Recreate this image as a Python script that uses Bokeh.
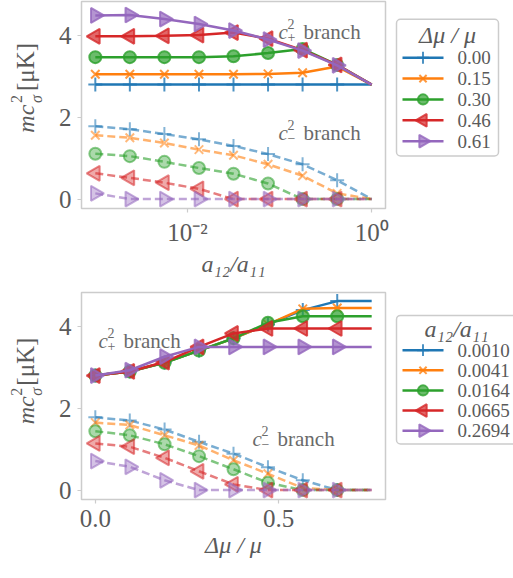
import math
from bokeh.plotting import figure
from bokeh.models import Range1d, FixedTicker, NumeralTickFormatter, Quad, Label
from bokeh.core.properties import value
from bokeh.layouts import column, row
from bokeh.embed import file_html
from bokeh.resources import INLINE

# ---------------- data ----------------
# top panel: x = a12/a11 (log), series = delta mu / mu
a12_top = [0.001, 0.00237, 0.00562, 0.01334, 0.03162, 0.0750, 0.1778, 0.4217, 1.0]
dmu_labels = ["0.00", "0.15", "0.30", "0.46", "0.61"]
cplus_top_000 = [2.80, 2.80, 2.80, 2.80, 2.80, 2.80, 2.80, 2.80, 2.80]
cplus_top_015 = [3.05, 3.05, 3.05, 3.05, 3.05, 3.06, 3.09, 3.24, 2.80]
cplus_top_030 = [3.47, 3.47, 3.47, 3.47, 3.49, 3.57, 3.67, 3.28, 2.80]
cplus_top_046 = [3.98, 3.98, 3.99, 4.01, 4.07, 3.92, 3.64, 3.28, 2.80]
cplus_top_061 = [4.49, 4.50, 4.40, 4.28, 4.12, 3.90, 3.63, 3.27, 2.80]
cminus_top_000 = [1.78, 1.71, 1.59, 1.46, 1.30, 1.10, 0.85, 0.46, 0.00]
cminus_top_015 = [1.56, 1.50, 1.37, 1.21, 1.07, 0.85, 0.57, 0.14, 0.00]
cminus_top_030 = [1.11, 1.05, 0.91, 0.76, 0.62, 0.38, 0.00, 0.00, 0.00]
cminus_top_046 = [0.63, 0.52, 0.40, 0.25, 0.00, 0.00, 0.00, 0.00, 0.00]
cminus_top_061 = [0.14, 0.00, 0.00, 0.00, 0.00, 0.00, 0.00, 0.00, 0.00]

# bottom panel: x = delta mu / mu, series = a12/a11
dmu_bot = [0.0, 0.094, 0.189, 0.283, 0.377, 0.471, 0.566, 0.660, 0.754]
a12_labels = ["0.0010", "0.0041", "0.0164", "0.0665", "0.2694"]
cplus_bot_0010 = [2.80, 2.90, 3.12, 3.41, 3.71, 4.05, 4.40, 4.62, 4.62]
cplus_bot_0041 = [2.80, 2.90, 3.12, 3.41, 3.71, 4.05, 4.43, 4.45, 4.45]
cplus_bot_0164 = [2.80, 2.90, 3.11, 3.41, 3.71, 4.09, 4.25, 4.25, 4.25]
cplus_bot_0665 = [2.80, 2.90, 3.13, 3.50, 3.83, 3.95, 3.95, 3.95, 3.95]
cplus_bot_2694 = [2.80, 2.93, 3.26, 3.50, 3.50, 3.50, 3.50, 3.50, 3.50]
cminus_bot_0010 = [1.78, 1.70, 1.48, 1.18, 0.89, 0.56, 0.24, 0.00, 0.00]
cminus_bot_0041 = [1.65, 1.59, 1.34, 1.09, 0.73, 0.40, 0.05, 0.00, 0.00]
cminus_bot_0164 = [1.44, 1.34, 1.12, 0.83, 0.51, 0.18, 0.00, 0.00, 0.00]
cminus_bot_0665 = [1.14, 1.06, 0.79, 0.46, 0.14, 0.00, 0.00, 0.00, 0.00]
cminus_bot_2694 = [0.71, 0.57, 0.24, 0.00, 0.00, 0.00, 0.00, 0.00, 0.00]

y_ticks = [0, 2, 4]
top_x_ticks = [0.01, 1.0]
top_x_tick_labels = ["10⁻²", "10⁰"]
bot_x_ticks = [0.0, 0.5]

top_plus = [cplus_top_000, cplus_top_015, cplus_top_030, cplus_top_046, cplus_top_061]
top_minus = [cminus_top_000, cminus_top_015, cminus_top_030, cminus_top_046, cminus_top_061]
bot_plus = [cplus_bot_0010, cplus_bot_0041, cplus_bot_0164, cplus_bot_0665, cplus_bot_2694]
bot_minus = [cminus_bot_0010, cminus_bot_0041, cminus_bot_0164, cminus_bot_0665, cminus_bot_2694]

# ---------------- style ----------------
FONT = "Liberation Serif"
TXT = "#5a5a5a"
ANN = "#6a6a6a"
GRID = "#cccccc"
colors = ["#1f77b4", "#ff7f0e", "#2ca02c", "#d62728", "#9467bd"]
markers = ["cross", "x", "circle", "triangle", "triangle"]
angles = [0.0, 0.0, 0.0, math.pi / 2, -math.pi / 2]
msizes = [14, 12, 12, 15, 15]
NMARK = 8
HAS_RADIUS = "border_radius" in Quad.properties()


def style(p):
    p.outline_line_color = GRID
    p.outline_line_width = 1.5
    p.xgrid.visible = False
    p.ygrid.visible = False
    p.border_fill_color = "white"
    for ax in p.axis:
        ax.axis_line_color = None
        ax.major_tick_line_color = GRID
        ax.major_tick_line_width = 1.2
        ax.major_tick_out = 4
        ax.major_tick_in = 0
        ax.minor_tick_line_color = None
        ax.major_label_text_font = FONT
        ax.major_label_text_font_size = "25px"
        ax.major_label_text_color = TXT
        ax.major_label_standoff = 6
        ax.axis_label_text_font = FONT
        ax.axis_label_text_font_size = "24px"
        ax.axis_label_text_color = TXT
        ax.axis_label_text_font_style = "italic"
        ax.axis_label_standoff = 2
    p.yaxis.ticker = FixedTicker(ticks=y_ticks)
    p.yaxis.axis_label = None


def draw(p, xs, plus, minus):
    for i in range(5):
        c = colors[i]
        p.line(xs, minus[i], line_color=c, line_width=2.5, line_dash="8 4", line_alpha=0.6)
        p.scatter(xs[:NMARK], minus[i][:NMARK], marker=markers[i], size=msizes[i], angle=angles[i],
                  fill_color=c, fill_alpha=0.4, line_color=c, line_alpha=0.55, line_width=2)
    for i in range(5):
        c = colors[i]
        p.line(xs, plus[i], line_color=c, line_width=2.5)
        p.scatter(xs[:NMARK], plus[i][:NMARK], marker=markers[i], size=msizes[i], angle=angles[i],
                  fill_color=c, fill_alpha=0.7, line_color=c, line_alpha=0.8, line_width=2)


def txt(p, x, y, text, size, style="normal", angle=0.0, color=TXT, align="left", baseline="alphabetic"):
    p.text(x=[x], y=[y], text=[text], angle=angle, text_font=value(FONT), text_font_style=style,
           text_font_size=size, text_color=color, text_align=align, text_baseline=baseline)


def branch(p, x, y, sign):
    # x, y in screen pixels relative to the frame (y up)
    for dx, dy, t, s, st in [(0, 0, "c", "21px", "italic"), (9, 8, "2", "14px", "normal"),
                             (9, -5, sign, "14px", "normal"), (25, 0, "branch", "21px", "normal")]:
        p.add_layout(Label(x=x + dx, y=y + dy, x_units="screen", y_units="screen", text=t,
                           text_font=FONT, text_font_style=st, text_font_size=s,
                           text_color=ANN, text_align="left", text_baseline="alphabetic"))


def aux(w, h):
    f = figure(width=w, height=h, x_range=Range1d(0, w), y_range=Range1d(h, 0),
               min_border=0, x_axis_location=None, y_axis_location=None, title=None,
               output_backend="svg", toolbar_location=None)
    f.outline_line_color = None
    f.xgrid.visible = False
    f.ygrid.visible = False
    f.border_fill_color = "white"
    return f


def ylabel_fig(h, cy):
    # rotated y-axis label  m c^2_sigma [muK]; pieces anchored at their centres
    f = aux(45, h)
    a = math.pi / 2
    cy = cy + 16
    txt(f, 25, cy + 38, "mc", "24px", "italic", a, align="center", baseline="middle")
    txt(f, 15.5, cy + 11.5, "2", "16px", "normal", a, align="center", baseline="middle")
    txt(f, 36, cy + 11.5, "σ", "16px", "italic", a, align="center", baseline="middle")
    txt(f, 25, cy - 32, "[μK]", "25px", "normal", a, align="center", baseline="middle")
    return f


def legend_fig(h, box, title, title_xy, labels, y0, pitch):
    f = aux(124, h)
    kw = dict(fill_color="white", line_color=GRID, line_width=1.5)
    if HAS_RADIUS:
        kw["border_radius"] = 4
    f.quad(left=[box[0]], right=[box[1]], top=[box[2]], bottom=[box[3]], **kw)
    txt(f, title_xy[0], title_xy[1], title, "24px", "italic", align="center", baseline="middle")
    for i, lab in enumerate(labels):
        yy = y0 + pitch * i
        f.line([13, 54], [yy, yy], line_color=colors[i], line_width=2.5)
        f.scatter([33.5], [yy], marker=markers[i], size=msizes[i] * 0.85, angle=angles[i],
                  fill_color=colors[i], fill_alpha=0.7, line_color=colors[i], line_alpha=0.8, line_width=2)
        txt(f, 68, yy, lab, "19px", align="left", baseline="middle")
    return f


# ---------------- top figure ----------------
H1 = 280
p1 = figure(frame_width=304, frame_height=207, x_axis_type="log",
            x_range=Range1d(10 ** -3.15, 10 ** 0.15), y_range=Range1d(-0.23, 4.83),
            min_border_left=36, min_border_right=4, min_border_top=1, min_border_bottom=H1 - 208,
            output_backend="svg", toolbar_location=None, title=None)
style(p1)
p1.xaxis.ticker = FixedTicker(ticks=top_x_ticks)
p1.xaxis.major_label_overrides = {t: l for t, l in zip(top_x_ticks, top_x_tick_labels)}
p1.xaxis.axis_label = "a₁₂/a₁₁"
draw(p1, a12_top, top_plus, top_minus)
branch(p1, 197, 177, "+")
branch(p1, 197, 76, "−")

y1 = ylabel_fig(H1, 104.5)
l1 = legend_fig(H1, (7, 109, 24, 209), "Δμ / μ", (58, 45), dmu_labels, 76, 28.25)

# ---------------- bottom figure ----------------
H2 = 298
p2 = figure(frame_width=304, frame_height=207,
            x_range=Range1d(-0.0377, 0.7917), y_range=Range1d(-0.23, 4.83),
            min_border_left=36, min_border_right=4, min_border_top=12, min_border_bottom=H2 - 219,
            output_backend="svg", toolbar_location=None, title=None)
style(p2)
p2.xaxis.ticker = FixedTicker(ticks=bot_x_ticks)
p2.xaxis.formatter = NumeralTickFormatter(format="0.0")
p2.xaxis.axis_label = "Δμ / μ"
draw(p2, dmu_bot, bot_plus, bot_minus)
branch(p2, 17, 159, "+")
branch(p2, 171, 61, "−")

y2 = ylabel_fig(H2, 115.5)
l2 = legend_fig(H2, (7, 140, 33, 218), "a₁₂/a₁₁", (67, 52), a12_labels, 83, 29)

layout = column(row(y1, p1, l1, spacing=0), row(y2, p2, l2, spacing=0), spacing=0)
open("out.html", "w").write(file_html(layout, INLINE))
